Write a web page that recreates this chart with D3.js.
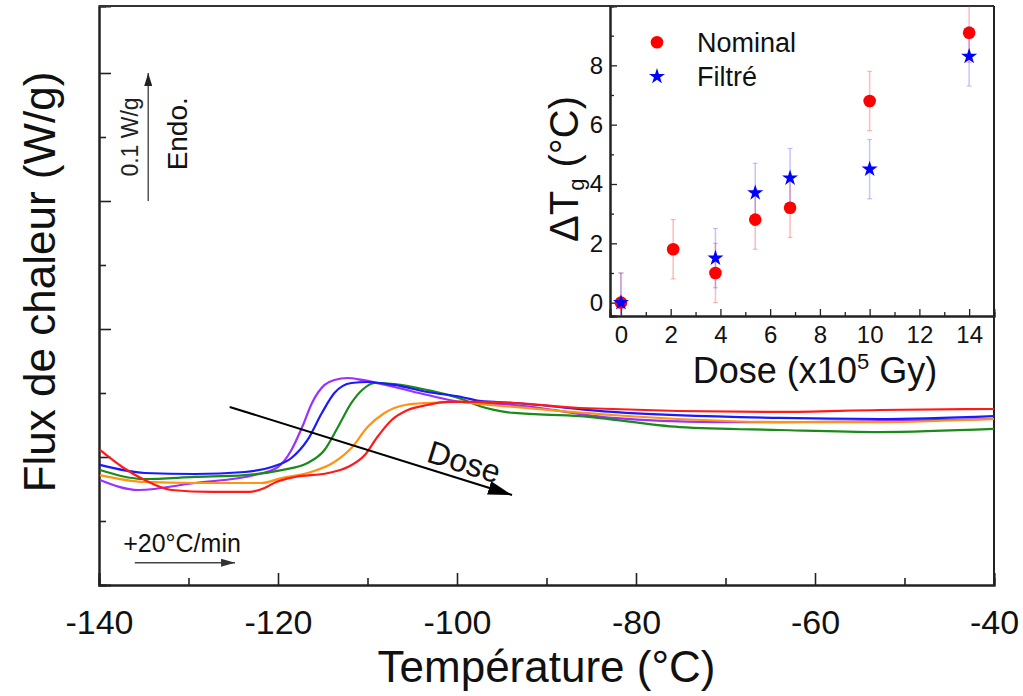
<!DOCTYPE html>
<html>
<head>
<meta charset="utf-8">
<script src="https://cdn.jsdelivr.net/npm/d3@7"></script>
<style>
  html, body { margin: 0; padding: 0; background: #fff; }
  svg { display: block; font-family: "Liberation Sans", Arial, sans-serif; }
</style>
</head>
<body>
<svg id="chart" width="1023" height="696"></svg>
<script>
// ---------- Main DSC curves (temperature °C, heat flow W/g) ----------
const purpleT = [-139.9,-135.6,-129.3,-122.6,-120.0,-118.5,-117.3,-116.2,-114.8,-113.7,-112.2,-110.6,-107.0,-103.3,-99.5,-97.5,-93.6,-82.6,-71.5,-64.0,-52.8,-40];
const purpleF = [0.0820,0.0742,0.0797,0.0859,0.0922,0.1055,0.1234,0.1422,0.1563,0.1602,0.1617,0.1602,0.1547,0.1484,0.1430,0.1422,0.1406,0.1305,0.1273,0.1273,0.1281,0.1297];

const blueT = [-139.9,-134.9,-129.3,-123.7,-120.7,-118.5,-116.7,-115.1,-113.7,-111.8,-110.0,-107.0,-103.3,-99.5,-97.5,-93.6,-82.6,-64.0,-52.8,-40];
const blueF = [0.0938,0.0875,0.0867,0.0883,0.0922,0.0992,0.1133,0.1344,0.1500,0.1578,0.1586,0.1563,0.1508,0.1469,0.1438,0.1422,0.1352,0.1305,0.1297,0.1320];

const greenT = [-139.9,-134.9,-129.3,-123.7,-119.6,-116.7,-114.8,-113.3,-111.8,-110.6,-109.2,-107.0,-103.3,-99.5,-97.5,-93.6,-86.3,-75.1,-64.0,-52.8,-40];
const greenF = [0.0898,0.0828,0.0844,0.0859,0.0898,0.0953,0.1055,0.1234,0.1422,0.1523,0.1578,0.1570,0.1523,0.1453,0.1398,0.1344,0.1320,0.1234,0.1211,0.1195,0.1219];

const orangeT = [-139.9,-134.9,-129.3,-121.8,-119.6,-116.7,-113.7,-111.8,-110.0,-108.1,-105.8,-103.3,-99.5,-97.5,-93.6,-82.6,-64.0,-52.8,-40];
const orangeF = [0.0859,0.0805,0.0797,0.0797,0.0836,0.0875,0.0961,0.1070,0.1234,0.1344,0.1406,0.1422,0.1430,0.1414,0.1391,0.1328,0.1273,0.1273,0.1297];

const redT = [-139.9,-137.4,-134.9,-131.9,-127.4,-123.2,-121.5,-120.2,-118.1,-114.4,-112.2,-110.3,-108.9,-107.3,-105.5,-103.3,-101.0,-97.7,-93.6,-86.3,-64.0,-52.8,-40];
const redF = [0.1055,0.0922,0.0820,0.0742,0.0727,0.0727,0.0758,0.0805,0.0844,0.0875,0.0922,0.1016,0.1156,0.1289,0.1367,0.1406,0.1430,0.1430,0.1422,0.1383,0.1352,0.1367,0.1375];

const seriesColors = ["#9b30ff", "#1a8a1a", "#ff9410", "#1a1aff", "#ff1a1a"];

const mainXTicks = [-140, -120, -100, -80, -60, -40];
const mainXMinor = [-130, -110, -90, -70, -50];
const mainYMajor = [0.1, 0.2, 0.3, 0.4];
const mainYMinor = [0.05, 0.15, 0.25, 0.35];

// ---------- Inset data ----------
const doseNominal = [0, 2.1, 3.8, 5.4, 6.8, 10, 14];
const dTgNominal  = [0, 1.8, 1.0, 2.8, 3.2, 6.8, 9.1];
const errNominal  = [1, 1, 1, 1, 1, 1, 1];
const doseFiltre  = [0, 3.8, 5.4, 6.8, 10, 14];
const dTgFiltre   = [0, 1.5, 3.7, 4.2, 4.5, 8.3];
const errFiltre   = [1, 1, 1, 1, 1, 1];

const insetXTicks = [0, 2, 4, 6, 8, 10, 12, 14];
const insetXMinor = [1, 3, 5, 7, 9, 11, 13];
const insetYTicks = [0, 2, 4, 6, 8];
const insetYMinor = [1, 3, 5, 7, 9];

const legendLabels = ["Nominal", "Filtré"];

// ---------- Layout ----------
const svg = d3.select("#chart");
const FONT = '"Liberation Sans", Arial, sans-serif';

const x = d3.scaleLinear().domain([-140, -40]).range([99, 994]);
const y = d3.scaleLinear().domain([0, 0.45234]).range([585, 6]);

const defs = svg.append("defs");
function marker(id, color, w, h) {
  defs.append("marker").attr("id", id)
    .attr("viewBox", `0 0 ${w} ${h}`).attr("refX", w).attr("refY", h / 2)
    .attr("markerWidth", w).attr("markerHeight", h).attr("markerUnits", "userSpaceOnUse")
    .attr("orient", "auto")
    .append("path").attr("d", `M0,0 L${w},${h / 2} L0,${h} Z`).attr("fill", color);
}
marker("arrBlack", "#000", 24, 14);
marker("arrGrey", "#333", 14, 8);
marker("arrGreyUp", "#222", 13, 8);

// Main axes
const axG = svg.append("g");
const xMajor = d3.axisBottom(x).tickValues(mainXTicks).tickSize(-12).tickPadding(25).tickFormat(d3.format("d"));
const xMin = d3.axisBottom(x).tickValues(mainXMinor).tickSize(-7).tickFormat("");
const yMaj = d3.axisLeft(y).tickValues(mainYMajor).tickSize(-12).tickFormat("");
const yMin = d3.axisLeft(y).tickValues(mainYMinor).tickSize(-7).tickFormat("");

const gx = axG.append("g").attr("transform", "translate(0,585)").call(xMajor);
axG.append("g").attr("transform", "translate(0,585)").call(xMin);
axG.append("g").attr("transform", "translate(99,0)").call(yMaj);
axG.append("g").attr("transform", "translate(99,0)").call(yMin);
axG.selectAll(".domain").attr("stroke", "#222").attr("stroke-width", 2);
axG.selectAll(".tick line").attr("stroke", "#222").attr("stroke-width", 1.6);
gx.selectAll(".tick text").attr("font-size", 34).attr("font-family", FONT).attr("fill", "#111")
  .text(d => d < 0 ? "-" + Math.abs(d) : d);

// Frame top and right
svg.append("line").attr("x1", x(-140)).attr("x2", x(-40)).attr("y1", y.range()[1]).attr("y2", y.range()[1])
  .attr("stroke", "#333").attr("stroke-width", 2);
svg.append("line").attr("x1", x(-40)).attr("x2", x(-40)).attr("y1", y.range()[1]).attr("y2", y.range()[0])
  .attr("stroke", "#222").attr("stroke-width", 2);

// Curves
const line = d3.line().x(d => x(d[0])).y(d => y(d[1])).curve(d3.curveMonotoneX);
const seriesList = [
  [purpleT, purpleF], [greenT, greenF], [orangeT, orangeF], [blueT, blueF], [redT, redF]
];
seriesList.forEach((s, i) => {
  const pts = s[0].map((t, j) => [t, s[1][j]]);
  svg.append("path").datum(pts).attr("d", line).attr("fill", "none")
    .attr("stroke", seriesColors[i]).attr("stroke-width", 2.2).attr("stroke-linejoin", "round");
});

// Axis titles
svg.append("text").attr("x", (x(-140) + x(-40)) / 2).attr("y", 682).attr("text-anchor", "middle")
  .attr("font-size", 44).attr("fill", "#111").text("Température (°C)");
svg.append("text").attr("transform", "translate(55,282) rotate(-90)").attr("text-anchor", "middle")
  .attr("font-size", 44).attr("fill", "#111").text("Flux de chaleur (W/g)");

// Dose arrow + label
svg.append("line").attr("x1", x(-125.4)).attr("y1", y(0.1391)).attr("x2", x(-93.85)).attr("y2", y(0.0703))
  .attr("stroke", "#000").attr("stroke-width", 2).attr("marker-end", "url(#arrBlack)");
const ang = Math.atan2(y(0.0703) - y(0.1391), x(-93.85) - x(-125.4)) * 180 / Math.PI;
svg.append("text").attr("transform", `translate(${x(-99.2)},${y(0.0961)}) rotate(${ang})`)
  .attr("text-anchor", "middle").attr("dominant-baseline", "central")
  .attr("font-size", 32).attr("fill", "#111").text("Dose");

// Scale bar 0.1 W/g
svg.append("line").attr("x1", x(-134.5)).attr("x2", x(-134.5)).attr("y1", y(0.3)).attr("y2", y(0.4))
  .attr("stroke", "#555").attr("stroke-width", 1.5).attr("marker-end", "url(#arrGreyUp)");
svg.append("text").attr("transform", `translate(${x(-135.6)},${y(0.35)}) rotate(-90)`).attr("text-anchor", "middle")
  .attr("font-size", 23).attr("fill", "#222").text("0.1 W/g");
svg.append("text").attr("transform", `translate(${x(-130.2)},${y(0.3525)}) rotate(-90)`).attr("text-anchor", "middle")
  .attr("font-size", 28).attr("fill", "#111").text("Endo.");

// Heating rate
svg.append("text").attr("x", x(-137.3)).attr("y", y(0.0258)).attr("font-size", 25).attr("fill", "#111").text("+20°C/min");
svg.append("line").attr("x1", x(-136.0)).attr("x2", x(-124.8)).attr("y1", y(0.0174)).attr("y2", y(0.0174))
  .attr("stroke", "#444").attr("stroke-width", 1.3).attr("marker-end", "url(#arrGrey)");

// ---------- Inset ----------
const xi = d3.scaleLinear().domain([-0.44, 15]).range([610, 994]);
const yi = d3.scaleLinear().domain([-0.45, 10.0]).range([316, 6]);
const inset = svg.append("g");
inset.append("rect").attr("x", 610).attr("y", 6).attr("width", 384).attr("height", 310).attr("fill", "#fff");
defs.append("clipPath").attr("id", "insetClip").append("rect").attr("x", 610).attr("y", 6).attr("width", 384).attr("height", 310);

const ig = inset.append("g");
const ixMaj = d3.axisBottom(xi).tickValues(insetXTicks).tickSize(-7).tickPadding(10);
const ixMin = d3.axisBottom(xi).tickValues(insetXMinor).tickSize(-4).tickFormat("");
const iyMaj = d3.axisLeft(yi).tickValues(insetYTicks).tickSize(-7).tickPadding(7);
const iyMin = d3.axisLeft(yi).tickValues(insetYMinor).tickSize(-4).tickFormat("");
const gix = ig.append("g").attr("transform", "translate(0,316)").call(ixMaj);
ig.append("g").attr("transform", "translate(0,316)").call(ixMin);
const giy = ig.append("g").attr("transform", "translate(610,0)").call(iyMaj);
ig.append("g").attr("transform", "translate(610,0)").call(iyMin);
ig.selectAll(".domain").attr("stroke", "#222").attr("stroke-width", 2);
ig.selectAll(".tick line").attr("stroke", "#222").attr("stroke-width", 1.3);
gix.selectAll(".tick text").attr("font-size", 24).attr("font-family", FONT).attr("fill", "#111");
giy.selectAll(".tick text").attr("font-size", 24).attr("font-family", FONT).attr("fill", "#111");

// Inset border top/right
inset.append("line").attr("x1", 610).attr("x2", 994).attr("y1", 6).attr("y2", 6).attr("stroke", "#333").attr("stroke-width", 2);
inset.append("line").attr("x1", 994).attr("x2", 994).attr("y1", 6).attr("y2", 316).attr("stroke", "#222").attr("stroke-width", 2);

const plotI = inset.append("g").attr("clip-path", "url(#insetClip)");
function errBars(xs, ys, es, color) {
  xs.forEach((d, i) => {
    plotI.append("line").attr("x1", xi(d)).attr("x2", xi(d)).attr("y1", yi(ys[i] - es[i])).attr("y2", yi(ys[i] + es[i]))
      .attr("stroke", color).attr("stroke-width", 1.5);
    [ys[i] - es[i], ys[i] + es[i]].forEach(v => {
      plotI.append("line").attr("x1", xi(d) - 2.5).attr("x2", xi(d) + 2.5).attr("y1", yi(v)).attr("y2", yi(v))
        .attr("stroke", color).attr("stroke-width", 1.2);
    });
  });
}
errBars(doseNominal, dTgNominal, errNominal, "rgba(255,60,60,0.35)");
errBars(doseFiltre, dTgFiltre, errFiltre, "rgba(60,60,255,0.3)");

plotI.selectAll("circle.nom").data(doseNominal).join("circle").attr("class", "nom")
  .attr("cx", d => xi(d)).attr("cy", (d, i) => yi(dTgNominal[i])).attr("r", 6.3).attr("fill", "#ff0000");
const star = d3.symbol().type(d3.symbolStar).size(80);
plotI.selectAll("path.fil").data(doseFiltre).join("path").attr("class", "fil")
  .attr("transform", (d, i) => `translate(${xi(d)},${yi(dTgFiltre[i])})`).attr("d", star).attr("fill", "#0000ff");

// Legend
inset.append("circle").attr("cx", 657).attr("cy", 42.3).attr("r", 6.3).attr("fill", "#ff0000");
inset.append("path").attr("transform", "translate(657,76.5)").attr("d", star).attr("fill", "#0000ff");
inset.append("text").attr("x", 697).attr("y", 52).attr("font-size", 27).attr("fill", "#111").text(legendLabels[0]);
inset.append("text").attr("x", 697).attr("y", 86).attr("font-size", 27).attr("fill", "#111").text(legendLabels[1]);

// Inset axis titles
const ixt = inset.append("text").attr("x", (xi(-0.44) + xi(15)) / 2 + 13).attr("y", 383).attr("text-anchor", "middle")
  .attr("font-size", 36).attr("fill", "#111");
ixt.append("tspan").text("Dose (x10");
ixt.append("tspan").attr("font-size", 22).attr("dy", -14).text("5");
ixt.append("tspan").attr("dy", 14).text(" Gy)");

const iyt = inset.append("text").attr("transform", "translate(578,169) rotate(-90)").attr("text-anchor", "middle")
  .attr("font-size", 40).attr("fill", "#111");
iyt.append("tspan").text("ΔT");
iyt.append("tspan").attr("font-size", 22).attr("dy", 6).text("g");
iyt.append("tspan").attr("dy", -6).text(" (°C)");
</script>
</body>
</html>
